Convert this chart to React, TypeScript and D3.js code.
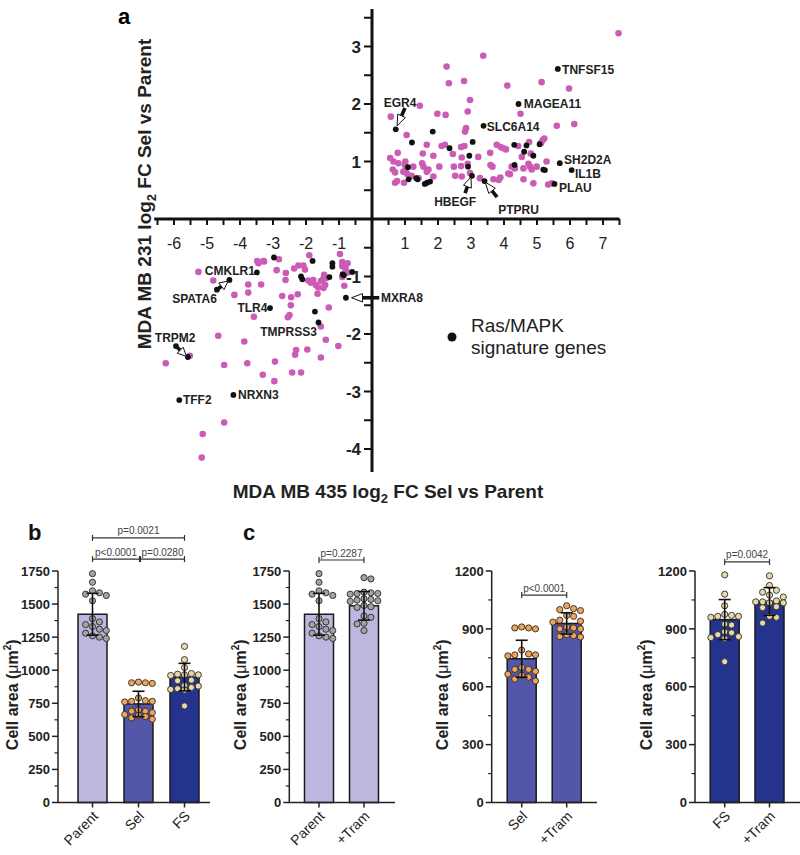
import React from "react";
import * as d3 from "d3";

const FONT = "'Liberation Sans', Arial, Helvetica, sans-serif";

// ---------------- Panel a data (log2 FC: [MDA MB 435, MDA MB 231]) ----------------
const otherGenes: [number, number][] = [
  [7.47, 3.23], [3.37, 2.84], [2.26, 2.65], [2.33, 2.36], [2.79, 2.4], [4.1, 2.32], [5.14, 2.38], [5.97, 2.27],
  [2.97, 2.07], [1.45, 1.97], [0.57, 1.78], [1.98, 1.83], [2.23, 1.81], [2.9, 1.87], [4.5, 1.83], [5.6, 1.62], [6.13, 1.65],
  [2.85, 1.58], [2.82, 1.52], [1.05, 1.46], [0.78, 1.15], [1.66, 1.29], [2.11, 1.27], [2.21, 1.29], [2.7, 1.25], [2.8, 1.27],
  [1.54, 1.14], [2.45, 1.13], [3.22, 1.08], [3.58, 1.15], [3.78, 1.29], [3.9, 1.25], [4.06, 1.21], [4.43, 1.27], [4.76, 1.34],
  [5.17, 1.37], [5.12, 1.32], [4.81, 1.14], [4.54, 1.08], [0.55, 1.06], [0.65, 1.0], [0.8, 0.97], [1.0, 0.94], [1.25, 0.91],
  [0.63, 0.86], [0.7, 0.81], [0.95, 0.82], [1.07, 0.78], [0.7, 0.63], [0.97, 0.63], [1.2, 0.75], [1.56, 0.91], [1.66, 0.82],
  [1.71, 0.86], [1.86, 0.74], [2.04, 0.91], [2.48, 0.91], [2.7, 0.92], [2.9, 0.96], [2.52, 0.75], [2.72, 0.74], [2.97, 0.8],
  [3.27, 0.71], [3.65, 0.91], [3.68, 0.69], [3.84, 0.68], [4.23, 0.91], [4.18, 0.78], [4.59, 0.88], [4.79, 0.91], [4.59, 0.69],
  [4.89, 0.62], [5.29, 1.0], [5.34, 0.6], [5.45, 0.62], [4.99, 0.91], [1.86, 1.1], [2.72, 1.07],
  [3.98, 1.23], [5.22, 1.4], [4.33, 0.88], [4.13, 0.79], [4.74, 0.96], [4.84, 0.86],
  [1.01, 1.0], [1.01, 0.85], [1.52, 0.97], [0.76, 0.66], [1.41, 0.71], [3.89, 0.72], [3.59, 0.94],
  [-5.26, -0.92], [-4.81, -1.07], [-4.17, -1.32], [-3.75, -1.14], [-3.75, -1.28], [-3.36, -1.14], [-3.48, -0.73], [-3.44, -0.77], [-3.29, -0.73],
  [-2.82, -0.7], [-2.89, -0.89], [-2.61, -0.94], [-2.62, -1.06], [-2.72, -1.34], [-2.45, -1.36], [-2.46, -1.5], [-2.5, -1.67], [-2.55, -1.71], [-3.58, -1.7],
  [-2.25, -1.31], [-2.36, -0.86], [-2.23, -0.81], [-2.08, -0.81], [-2.03, -0.88], [-1.9, -0.63], [-1.93, -1.07], [-1.85, -1.11], [-1.78, -1.06], [-1.7, -1.15], [-1.63, -1.19],
  [-1.55, -1.08], [-1.49, -1.05], [-1.42, -1.15], [-1.47, -1.2], [-1.65, -1.3], [-1.31, -1.54], [-1.55, -1.87], [-1.4, -2.1], [-1.02, -2.21], [-1.55, -2.41], [-1.96, -2.27],
  [-2.3, -2.28], [-2.33, -2.36], [-2.42, -2.67], [-2.15, -2.67], [-2.94, -2.48], [-2.96, -2.82], [-3.31, -2.71], [-3.78, -2.51], [-3.87, -2.13], [-4.66, -2.03], [-4.48, -2.54],
  [-5.52, -2.38], [-6.25, -2.51], [-4.48, -3.54], [-5.13, -3.74], [-5.16, -4.15],
  [-0.97, -0.61], [-0.9, -0.75], [-0.74, -0.77], [-0.9, -0.82], [-0.8, -0.86], [-0.74, -0.93], [-0.9, -1.01], [-0.84, -1.16], [-1.45, -0.97], [-1.39, -1.03], [-3.27, -0.74],
];

const rasGenes: [number, number][] = [
  [0.72, 1.56], [1.21, 1.33], [1.84, 1.52], [1.09, 0.9], [1.11, 0.69], [1.34, 0.71], [1.38, 0.69], [1.6, 0.61], [1.67, 0.63], [1.76, 0.65],
  [2.35, 1.23], [2.95, 1.1], [3.05, 1.34], [2.91, 0.91], [3.03, 0.75], [3.41, 0.66], [3.38, 1.62], [4.44, 2.0], [5.63, 2.61],
  [4.31, 1.29], [4.68, 1.28], [4.61, 1.17], [4.89, 1.1], [5.08, 1.3], [4.32, 0.94], [5.19, 0.86], [5.24, 0.85], [5.69, 0.97], [6.05, 0.85], [5.53, 0.61],
  [-3.49, -0.93], [-4.32, -1.06], [-4.7, -1.23], [-3.09, -1.55], [-1.62, -1.8], [-1.73, -1.61], [-5.94, -2.21], [-5.58, -2.4], [-5.84, -3.15], [-4.2, -3.06],
  [-2.97, -0.67], [-1.8, -0.73], [-2.15, -1.0], [-2.11, -1.05], [-1.29, -1.01], [-1.2, -0.77], [-1.2, -0.83], [-0.89, -0.96], [-0.85, -0.98], [-0.6, -0.92], [-0.79, -1.37],
];

const geneLabels = ["TNFSF15", "MAGEA11", "SLC6A14", "SH2D2A", "IL1B", "PLAU", "EGR4", "HBEGF", "PTPRU", "CMKLR1", "SPATA6", "TLR4", "TMPRSS3", "TRPM2", "TFF2", "NRXN3", "MXRA8"];
// label placement (data units) + anchor
const labelPlacement: Record<string, [number, number, string]> = {
  TNFSF15: [5.76, 2.59, "start"], MAGEA11: [4.6, 2.0, "start"], SLC6A14: [3.48, 1.6, "start"],
  SH2D2A: [5.82, 1.035, "start"], IL1B: [6.15, 0.79, "start"], PLAU: [5.67, 0.545, "start"],
  EGR4: [0.85, 2.03, "middle"], HBEGF: [2.52, 0.3, "middle"], PTPRU: [4.44, 0.17, "middle"],
  CMKLR1: [-3.55, -0.9, "end"], SPATA6: [-4.7, -1.39, "end"], TLR4: [-3.17, -1.55, "end"],
  TMPRSS3: [-1.67, -1.96, "end"], TRPM2: [-6.58, -2.07, "start"], TFF2: [-5.73, -3.15, "start"],
  NRXN3: [-4.06, -3.06, "start"], MXRA8: [0.27, -1.37, "start"],
};
// arrows: [tailX, tailY, tipX, tipY] in data units
const geneArrows: [number, number, number, number][] = [
  [1.0, 1.93, 0.76, 1.62],
  [2.82, 0.45, 3.0, 0.73],
  [3.79, 0.38, 3.43, 0.64],
  [-4.7, -1.23, -4.36, -1.08],
  [-5.94, -2.21, -5.62, -2.39],
  [0.22, -1.37, -0.62, -1.37],
];
const xTickLabels = [-6, -5, -4, -3, -2, -1, 1, 2, 3, 4, 5, 6, 7];
const yTickLabels = [-4, -3, -2, -1, 1, 2, 3];

// ---------------- Panels b / c data (cell area, µm²) ----------------
const parentCells = [1730, 1665, 1600, 1585, 1575, 1565, 1525, 1390, 1365, 1345, 1330, 1310, 1300, 1280, 1260, 1250, 1240];
const selCells = [910, 905, 905, 900, 790, 770, 765, 765, 760, 700, 690, 690, 680, 665, 660, 650, 640, 630];
const fsCells = [1180, 1080, 1020, 975, 970, 965, 965, 960, 925, 920, 885, 880, 870, 860, 855, 850, 730];
const parentTramCells = [1700, 1690, 1590, 1585, 1580, 1580, 1575, 1540, 1535, 1530, 1525, 1520, 1490, 1480, 1475, 1410, 1400, 1355, 1350, 1300];
const selTramCells = [1020, 1005, 1000, 995, 970, 965, 945, 940, 935, 910, 905, 900, 900, 870, 865, 860, 858];
const fsTramCells = [1175, 1125, 1100, 1090, 1075, 1065, 1045, 1040, 1040, 1035, 1035, 1015, 1010, 965, 960, 930];

const groupMeans = { Parent: 1423, Sel: 745, FS: 948, ParentTram: 1487, SelTram: 928, FSTram: 1042 };
const groupSDs = { Parent: 158, Sel: 96, FS: 104, ParentTram: 108, SelTram: 55, FSTram: 72 };

const pValuesB = ["p=0.0021", "p<0.0001", "p=0.0280"];
const pValuesC = ["p=0.2287", "p<0.0001", "p=0.0042"];

const ticks1750 = [0, 250, 500, 750, 1000, 1250, 1500, 1750];
const ticks1200 = [0, 300, 600, 900, 1200];

const COLORS = {
  parentBar: "#bbb7de", selBar: "#5457a7", fsBar: "#24338e",
  parentDot: "#a3a3a3", selDot: "#f1a458", fsDot: "#ead9a8",
  pink: "#cb5cb5",
};

function Arrow({ x1, y1, x2, y2 }: { x1: number; y1: number; x2: number; y2: number }) {
  const dx = x2 - x1, dy = y2 - y1;
  const L = Math.hypot(dx, dy);
  const ux = dx / L, uy = dy / L;
  const head = Math.min(11, L * 0.6);
  const hw = 4.2;
  const bx = x2 - ux * head, by = y2 - uy * head;
  const px = -uy, py = ux;
  const pts = [[x2, y2], [bx + px * hw, by + py * hw], [bx - px * hw, by - py * hw]].map((p) => p.join(",")).join(" ");
  return (
    <g>
      <line x1={x1} y1={y1} x2={bx} y2={by} stroke="#111" strokeWidth={3.6} />
      <polygon points={pts} fill="#fff" stroke="#111" strokeWidth={1} />
    </g>
  );
}

function ScatterPanel() {
  const x = d3.scaleLinear().domain([-6.6, 7.5]).range([154.2, 619.5]);
  const y = d3.scaleLinear().domain([-4.4, 3.65]).range([472, 9.1]);
  const x0 = x(0), y0 = y(0);
  const xt = d3.range(-6.5, 7.51, 0.5).filter((v) => v !== 0);
  const yt = d3.range(-4, 3.51, 0.5).filter((v) => v !== 0);
  return (
    <g fontFamily={FONT}>
      <text x={118} y={24} fontSize={22} fontWeight="bold">a</text>
      {/* axes */}
      <line x1={x(-6.6)} x2={x(7.5)} y1={y0} y2={y0} stroke="#111" strokeWidth={3} />
      <line x1={x0} x2={x0} y1={y(3.65)} y2={y(-4.4)} stroke="#111" strokeWidth={3} />
      {xt.map((v) => (
        <line key={"xt" + v} x1={x(v)} x2={x(v)} y1={y0} y2={y0 + 6} stroke="#111" strokeWidth={2} />
      ))}
      {yt.map((v) => (
        <line key={"yt" + v} x1={x0 - 8} x2={x0} y1={y(v)} y2={y(v)} stroke="#111" strokeWidth={2} />
      ))}
      {xTickLabels.map((v) => (
        <text key={"xl" + v} x={x(v)} y={y0 + 30} fontSize={16} textAnchor="middle" fill="#222">{v}</text>
      ))}
      {yTickLabels.map((v) => (
        <text key={"yl" + v} x={x0 - 11} y={y(v)} dy="0.36em" fontSize={17} fontWeight="bold" textAnchor="end" fill="#222">{v}</text>
      ))}
      {/* points */}
      {otherGenes.map(([a, b], i) => (
        <circle key={"o" + i} cx={x(a)} cy={y(b)} r={3.3} fill={COLORS.pink} />
      ))}
      {rasGenes.map(([a, b], i) => (
        <circle key={"r" + i} cx={x(a)} cy={y(b)} r={2.9} fill="#111" />
      ))}
      {geneArrows.map(([a, b, c, d], i) => (
        <Arrow key={"ar" + i} x1={x(a)} y1={y(b)} x2={x(c)} y2={y(d)} />
      ))}
      {geneLabels.map((g) => {
        const [a, b, anchor] = labelPlacement[g];
        return (
          <text key={g} x={x(a)} y={y(b)} dy="0.36em" fontSize={12} fontWeight="bold" textAnchor={anchor as any} fill="#222">{g}</text>
        );
      })}
      {/* legend */}
      <circle cx={452} cy={337} r={4.5} fill="#111" />
      <text x={471} y={332} fontSize={19} fill="#222">Ras/MAPK</text>
      <text x={471} y={354} fontSize={19} fill="#222">signature genes</text>
      {/* axis titles */}
      <text x={388} y={498} fontSize={19} fontWeight="bold" textAnchor="middle" fill="#222">
        MDA MB 435 log<tspan fontSize={13} dy={5}>2</tspan><tspan dy={-5}> FC Sel vs Parent</tspan>
      </text>
      <text transform="translate(151,194) rotate(-90)" fontSize={19} fontWeight="bold" textAnchor="middle" fill="#222">
        MDA MB 231 log<tspan fontSize={13} dy={5}>2</tspan><tspan dy={-5}> FC Sel vs Parent</tspan>
      </text>
    </g>
  );
}

type Group = { label: string; values: number[]; mean: number; sd: number; bar: string; dot: string };
type Bracket = { from: number; to: number; level: number; text: string; padL?: number; padR?: number };

function swarm(values: number[], y: (v: number) => number, r: number): number[] {
  const gap = 2 * r + 0.7;
  const idx = values.map((_, i) => i).sort((a, b) => values[b] - values[a]);
  const placed: { x: number; y: number }[] = [];
  const out = new Array(values.length).fill(0);
  const cands = [0, 1, -1, 2, -2].map((k) => k * gap);
  for (const i of idx) {
    const py = y(values[i]);
    let best = 0, bestD = -1;
    for (const c of cands) {
      const d = placed.reduce((m, p) => Math.min(m, Math.hypot(p.x - c, p.y - py)), Infinity);
      if (d >= gap) { best = c; break; }
      if (d > bestD) { bestD = d; best = c; }
    }
    out[i] = best;
    placed.push({ x: best, y: py });
  }
  return out;
}

function BarPanel(props: {
  axisX: number; axisEnd: number; c0: number; c1: number; yMax: number; ticks: number[]; minorStep: number;
  groups: Group[]; brackets: Bracket[]; labelX: number; panelLabel?: string; panelLabelX?: number;
}) {
  const { axisX, axisEnd, c0, c1, yMax, ticks, minorStep, groups, brackets, labelX } = props;
  const bottom = 802.5, top = 571;
  const y = d3.scaleLinear().domain([0, yMax]).range([bottom, top]);
  const xp = d3.scalePoint<string>().domain(groups.map((g) => g.label)).range([c0, c1]);
  const barW = 29;
  const minor = d3.range(0, yMax + 0.1, minorStep).filter((v) => !ticks.includes(v));
  const r = 3.1;
  return (
    <g fontFamily={FONT}>
      {props.panelLabel && (
        <text x={props.panelLabelX} y={540} fontSize={22} fontWeight="bold" fill="#111">{props.panelLabel}</text>
      )}
      {groups.map((g) => {
        const cx = xp(g.label)!;
        const offs = swarm(g.values, y, r);
        return (
          <g key={g.label}>
            <rect x={cx - barW / 2} y={y(g.mean)} width={barW} height={bottom - y(g.mean)} fill={g.bar} stroke="#1a1a1a" strokeWidth={1.5} />
            {g.values.map((v, i) => (
              <circle key={i} cx={cx + offs[i]} cy={y(v)} r={r} fill={g.dot} stroke="#2a2a2a" strokeWidth={0.9} />
            ))}
            <line x1={cx} x2={cx} y1={y(g.mean - g.sd)} y2={y(g.mean + g.sd)} stroke="#111" strokeWidth={1.6} />
            <line x1={cx - 6} x2={cx + 6} y1={y(g.mean + g.sd)} y2={y(g.mean + g.sd)} stroke="#111" strokeWidth={1.6} />
            <line x1={cx - 6} x2={cx + 6} y1={y(g.mean - g.sd)} y2={y(g.mean - g.sd)} stroke="#111" strokeWidth={1.6} />
            <line x1={cx} x2={cx} y1={bottom} y2={bottom + 5} stroke="#222" strokeWidth={1.5} />
            <text transform={`translate(${cx + 3},${bottom + 11}) rotate(-45)`} dy="0.35em" textAnchor="end" fontSize={14} fill="#222">
              {g.label}
            </text>
          </g>
        );
      })}
      {/* axes */}
      <line x1={axisX} x2={axisX} y1={top} y2={bottom} stroke="#222" strokeWidth={1.5} />
      <line x1={axisX} x2={axisEnd} y1={bottom} y2={bottom} stroke="#222" strokeWidth={1.5} />
      {ticks.map((t) => (
        <g key={t}>
          <line x1={axisX - 6} x2={axisX} y1={y(t)} y2={y(t)} stroke="#222" strokeWidth={1.5} />
          <text x={axisX - 8} y={y(t)} dy="0.36em" textAnchor="end" fontSize={13} fontWeight="bold" fill="#222">{t}</text>
        </g>
      ))}
      {minor.map((t) => (
        <line key={"m" + t} x1={axisX - 3.5} x2={axisX} y1={y(t)} y2={y(t)} stroke="#222" strokeWidth={1.2} />
      ))}
      <text transform={`translate(${labelX},${(top + bottom) / 2 + 8}) rotate(-90)`} textAnchor="middle" fontSize={16} fontWeight="bold" fill="#222">
        Cell area (<tspan fontWeight="normal">μ</tspan>m<tspan fontSize={10} dy={-7}>2</tspan><tspan dy={7}>)</tspan>
      </text>
      {brackets.map((b, i) => {
        const xa = xp(groups[b.from].label)! + (b.padL || 0);
        const xb = xp(groups[b.to].label)! - (b.padR || 0);
        const yy = y(b.level);
        return (
          <g key={"br" + i}>
            <line x1={xa} x2={xb} y1={yy} y2={yy} stroke="#333" strokeWidth={1.2} />
            <line x1={xa} x2={xa} y1={yy - 3} y2={yy + 3} stroke="#333" strokeWidth={1.2} />
            <line x1={xb} x2={xb} y1={yy - 3} y2={yy + 3} stroke="#333" strokeWidth={1.2} />
            <text x={(xa + xb) / 2} y={yy - 3.5} textAnchor="middle" fontSize={10} fill="#444">{b.text}</text>
          </g>
        );
      })}
    </g>
  );
}

export default function App() {
  const parent: Group = { label: "Parent", values: parentCells, mean: groupMeans.Parent, sd: groupSDs.Parent, bar: COLORS.parentBar, dot: COLORS.parentDot };
  const sel: Group = { label: "Sel", values: selCells, mean: groupMeans.Sel, sd: groupSDs.Sel, bar: COLORS.selBar, dot: COLORS.selDot };
  const fs: Group = { label: "FS", values: fsCells, mean: groupMeans.FS, sd: groupSDs.FS, bar: COLORS.fsBar, dot: COLORS.fsDot };
  const pT: Group = { label: "+Tram", values: parentTramCells, mean: groupMeans.ParentTram, sd: groupSDs.ParentTram, bar: COLORS.parentBar, dot: COLORS.parentDot };
  const sT: Group = { label: "+Tram", values: selTramCells, mean: groupMeans.SelTram, sd: groupSDs.SelTram, bar: COLORS.selBar, dot: COLORS.selDot };
  const fT: Group = { label: "+Tram", values: fsTramCells, mean: groupMeans.FSTram, sd: groupSDs.FSTram, bar: COLORS.fsBar, dot: COLORS.fsDot };
  return (
    <svg width={800} height={855} style={{ position: "absolute", left: 0, top: 0, background: "#fff" }}>
      <rect width={800} height={855} fill="#fff" />
      <ScatterPanel />
      <BarPanel axisX={58} axisEnd={210} c0={92.5} c1={184.5} yMax={1750} ticks={ticks1750} minorStep={125}
        groups={[parent, sel, fs]} labelX={18} panelLabel="b" panelLabelX={28}
        brackets={[
          { from: 0, to: 2, level: 2000, text: pValuesB[0] },
          { from: 0, to: 1, level: 1840, text: pValuesB[1], padR: -1 },
          { from: 1, to: 2, level: 1840, text: pValuesB[2], padL: 2 },
        ]} />
      <BarPanel axisX={289.3} axisEnd={395} c0={319} c1={364} yMax={1750} ticks={ticks1750} minorStep={125}
        groups={[parent, pT]} labelX={246} panelLabel="c" panelLabelX={243}
        brackets={[{ from: 0, to: 1, level: 1833, text: pValuesC[0] }]} />
      <BarPanel axisX={491.7} axisEnd={597} c0={521.7} c1={566.7} yMax={1200} ticks={ticks1200} minorStep={150}
        groups={[sel, sT]} labelX={448}
        brackets={[{ from: 0, to: 1, level: 1075, text: pValuesC[1] }]} />
      <BarPanel axisX={695} axisEnd={800} c0={724.7} c1={769.5} yMax={1200} ticks={ticks1200} minorStep={150}
        groups={[fs, fT]} labelX={652}
        brackets={[{ from: 0, to: 1, level: 1247, text: pValuesC[2] }]} />
    </svg>
  );
}
